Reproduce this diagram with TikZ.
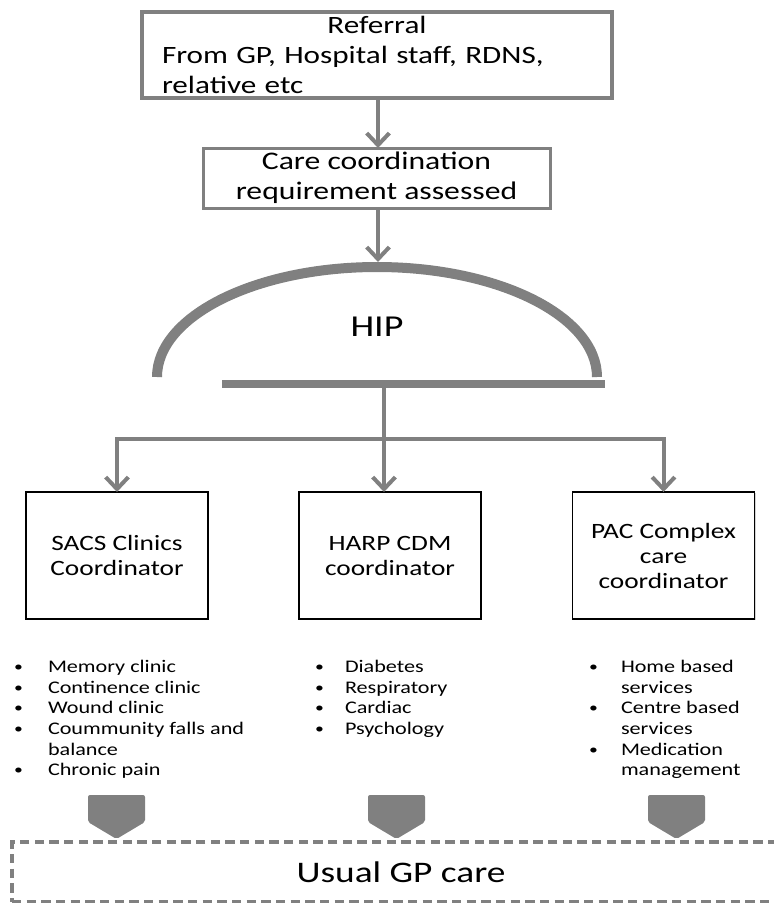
\documentclass[tikz,border=0pt]{standalone}
\usepackage{fontspec}
\setmainfont{Carlito}[FakeStretch=1.25]
\usetikzlibrary{arrows.meta,shadows,calc}
\definecolor{flowgray}{RGB}{128,128,128}
\newcommand{\listdot}{\raisebox{0.1ex}{\scalebox{0.8}{\textbullet}}}

\begin{document}
\begin{tikzpicture}[x=0.75pt,y=0.75pt,inner sep=0pt,outer sep=0pt,
    every node/.style={font=\fontsize{13.3}{15.5}\selectfont},
    grey_box/.style={draw=flowgray, fill=white},
    coord_box/.style={draw=black, line width=1.1pt, fill=white, align=center,
        minimum width=136.5pt, minimum height=95.25pt,
        font=\fontsize{16.4}{18.75}\selectfont,
        drop shadow={shadow xshift=1pt, shadow yshift=-1pt, opacity=0.35}},
    flow/.style={draw=flowgray, line width=3pt,
        -{Straight Barb[length=9pt,width=17pt,line width=3pt]}},
    chevron/.style={fill=flowgray, rounded corners=1.5pt},
    list_node/.style={anchor=north west, align=left}]
    \useasboundingbox (0,0) rectangle (774,-903);
    \clip (0,0) rectangle (774,-903);

    % referral
	\node[grey_box, line width=3pt, minimum width=352.5pt, minimum height=64.5pt,
      text width=322.5pt, inner xsep=15pt, align=left,
      font=\fontsize{18.7}{22.5}\selectfont] (ref_box) at (377,-55)
    {\raisebox{-3pt}{}{\centering Referral\par}From GP, Hospital staff, RDNS,\\relative etc};

    % care coordination
    \node[grey_box, line width=2.25pt, minimum width=260.25pt, minimum height=45pt,
      align=center, font=\fontsize{19}{22.5}\selectfont] (care_box) at (376.5,-178)
    {Care coordination\\requirement assessed};

    % HIP
    \coordinate (hip_top) at (378,-262);
    \draw[flowgray, line width=7.5pt] (157,-377)
      arc[start angle=180, end angle=0, x radius=220, y radius=110];
    \node[font=\fontsize{22.8}{26}\selectfont] (hip) at (377,-327) {HIP};
    \coordinate (bar_l) at (222,-384);
    \coordinate (bar_r) at (605,-384);
    \coordinate (bar_mid) at (384,-384);
    \draw[flowgray, line width=6pt] (bar_l) -- (bar_r);

    \draw[flow] (ref_box.south -| hip_top) -- (care_box.north -| hip_top);
    \draw[flow] (care_box.south -| hip_top) -- (hip_top);

    % coordinators
    \node[coord_box] (sacs_box) at (117,-555.5) {SACS Clinics\\Coordinator};
    \node[coord_box] (harp_box) at (390,-555.5) {HARP CDM\\coordinator};
    \node[coord_box] (pac_box) at (663.5,-555.5) {PAC Complex\\care\\coordinator};

    \coordinate (bus_y) at (0,-439);
    \draw[flow] (bar_mid) -- (bar_mid |- harp_box.north);
    \draw[flow] (bar_mid |- bus_y) -| (sacs_box.north);
    \draw[flow] (bar_mid |- bus_y) -| (pac_box.north);

    % services
    \node[list_node] (sacs_list) at (14,-658)
    {\begin{tabular}{@{}p{25.5pt}@{}l@{}}
    \listdot & Memory clinic \\
    \listdot & Continence clinic \\
    \listdot & Wound clinic \\
    \listdot & Coummunity falls and \\
             & balance \\
    \listdot & Chronic pain \\
    \end{tabular}};
    \node[list_node] (harp_list) at (315,-658)
    {\begin{tabular}{@{}p{22.5pt}@{}l@{}}
    \listdot & Diabetes \\
    \listdot & Respiratory \\
    \listdot & Cardiac \\
    \listdot & Psychology \\
    \end{tabular}};
    \node[list_node] (pac_list) at (589,-658)
    {\begin{tabular}{@{}p{24pt}@{}l@{}}
    \listdot & Home based \\
             & services \\
    \listdot & Centre based \\
             & services \\
    \listdot & Medication \\
             & management \\
    \end{tabular}};

    % usual care
    \foreach \cx in {116.5,396.5,676.5}
      \fill[chevron] (\cx-28.5,-795) -- (\cx+28.5,-795) -- (\cx+28.5,-822)
        -- (\cx,-839) -- (\cx-28.5,-822) -- cycle;
    \node[draw=flowgray, line width=3pt, dash pattern=on 7pt off 4pt,
      minimum width=583.5pt, minimum height=45pt,
      font=\fontsize{22.4}{26}\selectfont] (usual_gp) at (401,-872) {Usual GP care};

\end{tikzpicture}
\end{document}
